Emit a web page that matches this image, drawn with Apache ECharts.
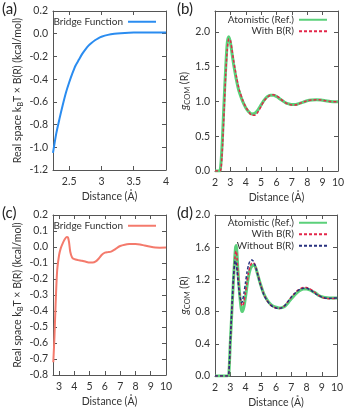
<!DOCTYPE html>
<html>
<head>
<meta charset="utf-8">
<script src="https://cdn.jsdelivr.net/npm/echarts@6/dist/echarts.min.js"></script>
<style>
html, body { margin: 0; padding: 0; background: #fff; }
#chart { width: 350px; height: 409px; }
</style>
</head>
<body>
<div id="chart"></div>
<script>
// (a) bridge function, short range
var aDist = [2.25, 2.3, 2.35, 2.4, 2.45, 2.5, 2.55, 2.6, 2.65, 2.7, 2.75, 2.8, 2.85, 2.9, 2.95, 3.0, 3.1, 3.2, 3.3, 3.5, 3.75, 4.0];
var aBridge = [-1.05, -0.88, -0.75, -0.63, -0.52, -0.43, -0.35, -0.28, -0.23, -0.18, -0.14, -0.105, -0.08, -0.058, -0.04, -0.027, -0.01, 0.0, 0.005, 0.01, 0.01, 0.01];
var aXTicks = [2.5, 3, 3.5, 4];
var aYTicks = [-1.2, -1.0, -0.8, -0.6, -0.4, -0.2, 0.0, 0.2];

// (b) g_COM(R)
var bDist = [2.0, 2.2, 2.3, 2.35, 2.4, 2.45, 2.5, 2.6, 2.7, 2.8, 2.9, 3.0, 3.1, 3.2, 3.3, 3.4, 3.5, 3.6, 3.8, 4.0, 4.2, 4.4, 4.6, 4.8, 5.0, 5.2, 5.4, 5.6, 5.8, 6.0, 6.2, 6.4, 6.6, 6.8, 7.0, 7.2, 7.4, 7.6, 7.8, 8.0, 8.3, 8.6, 8.9, 9.2, 9.5, 10.0];
var bAtom = [0, 0, 0.0, 0.03, 0.15, 0.33, 0.55, 1.05, 1.5, 1.85, 1.93, 1.85, 1.7, 1.55, 1.42, 1.3, 1.2, 1.12, 1.0, 0.91, 0.85, 0.82, 0.83, 0.88, 0.95, 1.02, 1.07, 1.09, 1.09, 1.07, 1.04, 1.01, 0.98, 0.965, 0.955, 0.955, 0.965, 0.98, 0.995, 1.01, 1.02, 1.025, 1.02, 1.01, 1.0, 0.995];
var bWithB = [0, 0, 0, 0.0, 0.05, 0.2, 0.4, 0.9, 1.4, 1.75, 1.9, 1.88, 1.75, 1.6, 1.47, 1.35, 1.24, 1.15, 1.02, 0.92, 0.85, 0.8, 0.8, 0.85, 0.93, 1.01, 1.06, 1.09, 1.095, 1.08, 1.05, 1.01, 0.98, 0.96, 0.95, 0.95, 0.96, 0.98, 0.995, 1.01, 1.02, 1.025, 1.02, 1.01, 1.0, 0.995];
var bXTicks = [2, 3, 4, 5, 6, 7, 8, 9, 10];
var bYTicks = [0.0, 0.5, 1.0, 1.5, 2.0];

// (c) bridge function, long range
var cDist = [2.62, 2.7, 2.77, 2.87, 3.0, 3.1, 3.2, 3.35, 3.5, 3.58, 3.65, 3.73, 3.85, 4.0, 4.25, 4.5, 4.75, 5.0, 5.2, 5.4, 5.6, 5.8, 6.0, 6.2, 6.4, 6.6, 6.8, 7.0, 7.3, 7.6, 8.0, 8.3, 8.6, 9.0, 9.3, 9.6, 10.0];
var cBridge = [-0.72, -0.55, -0.36, -0.15, -0.05, -0.01, 0.015, 0.045, 0.063, 0.06, 0.03, -0.03, -0.065, -0.076, -0.082, -0.086, -0.092, -0.097, -0.097, -0.09, -0.072, -0.048, -0.035, -0.032, -0.029, -0.018, -0.005, 0.006, 0.014, 0.018, 0.019, 0.016, 0.009, 0.001, -0.003, -0.004, -0.003];
var cXTicks = [3, 4, 5, 6, 7, 8, 9, 10];
var cYTicks = [-0.8, -0.7, -0.6, -0.5, -0.4, -0.3, -0.2, -0.1, 0.0, 0.1, 0.2];

// (d) g_COM(R), second system
var dDist = [2.0, 2.8, 2.9, 3.0, 3.1, 3.2, 3.3, 3.35, 3.4, 3.45, 3.5, 3.6, 3.7, 3.75, 3.8, 3.9, 4.0, 4.1, 4.2, 4.3, 4.4, 4.5, 4.6, 4.7, 4.8, 5.0, 5.2, 5.4, 5.6, 5.8, 6.0, 6.2, 6.4, 6.6, 6.8, 7.0, 7.2, 7.4, 7.6, 7.8, 8.0, 8.2, 8.4, 8.6, 8.8, 9.0, 9.2, 9.5, 10.0];
var dAtom = [0, 0, 0.01, 0.4, 0.78, 1.15, 1.48, 1.6, 1.62, 1.5, 1.32, 1.05, 0.86, 0.81, 0.8, 0.86, 0.98, 1.12, 1.24, 1.32, 1.36, 1.38, 1.37, 1.33, 1.26, 1.13, 1.02, 0.95, 0.9, 0.87, 0.855, 0.845, 0.85, 0.87, 0.91, 0.96, 1.0, 1.04, 1.065, 1.08, 1.08, 1.07, 1.05, 1.03, 1.0, 0.985, 0.975, 0.97, 0.97];
var dWithB = [0, 0, 0.01, 0.4, 0.78, 1.14, 1.45, 1.54, 1.55, 1.45, 1.3, 1.07, 0.92, 0.88, 0.87, 0.92, 1.03, 1.16, 1.28, 1.36, 1.4, 1.41, 1.39, 1.34, 1.27, 1.13, 1.02, 0.94, 0.89, 0.86, 0.845, 0.84, 0.85, 0.88, 0.93, 0.98, 1.02, 1.06, 1.085, 1.1, 1.1, 1.085, 1.06, 1.03, 1.0, 0.98, 0.965, 0.96, 0.965];
var dWithout = [0, 0, 0.02, 0.42, 0.82, 1.2, 1.42, 1.43, 1.38, 1.3, 1.2, 1.02, 0.93, 0.91, 0.93, 1.03, 1.16, 1.29, 1.38, 1.43, 1.44, 1.43, 1.39, 1.33, 1.26, 1.12, 1.01, 0.94, 0.89, 0.86, 0.845, 0.84, 0.85, 0.88, 0.93, 0.98, 1.02, 1.055, 1.08, 1.09, 1.09, 1.075, 1.05, 1.02, 1.0, 0.98, 0.97, 0.965, 0.97];
var dXTicks = [2, 3, 4, 5, 6, 7, 8, 9, 10];
var dYTicks = [0.0, 0.4, 0.8, 1.2, 1.6, 2.0];

var FONT = 'Lato';
var frame = '#555';
var txt = '#333';

function pairs(xs, ys) {
	return xs.map(function (x, i) { return [x, ys[i]]; });
}

var bridgeName = '{t|Real space k}{s|B}{t|T × B(R) (kcal/mol)}';
var gName = '{i|g}{s|COM}{t| (R)}';
var nameRich = {
	t: { fontSize: 10.5, fontFamily: FONT, color: txt, lineHeight: 14, verticalAlign: 'middle' },
	i: { fontSize: 11, fontFamily: FONT, fontStyle: 'italic', color: txt, lineHeight: 14, verticalAlign: 'middle' },
	s: { fontSize: 7.5, fontFamily: FONT, color: txt, lineHeight: 14, verticalAlign: 'bottom', padding: [4, 0, 0, 0] }
};

var grids = [
	{ left: 53, top: 11, width: 113, height: 159 },
	{ left: 215, top: 11, width: 123, height: 160 },
	{ left: 53, top: 215, width: 113, height: 160 },
	{ left: 215, top: 215, width: 122, height: 161 }
];
var panels = [
	{ x: [2.25, 4], xt: aXTicks, y: [-1.2, 0.2], yt: aYTicks, dec: 1, yName: bridgeName, gap: 28 },
	{ x: [2, 10], xt: bXTicks, y: [0, 2.3], yt: bYTicks, dec: 1, yName: gName, gap: 23 },
	{ x: [2.6, 10], xt: cXTicks, y: [-0.8, 0.2], yt: cYTicks, dec: 1, yName: bridgeName, gap: 28 },
	{ x: [2, 10], xt: dXTicks, y: [0, 2.0], yt: dYTicks, dec: 1, yName: gName, gap: 23 }
];

var xAxes = [], yAxes = [];
panels.forEach(function (p, gi) {
	['bottom', 'top'].forEach(function (pos) {
		var main = pos === 'bottom';
		xAxes.push({
			type: 'value', gridIndex: gi, position: pos, min: p.x[0], max: p.x[1],
			name: main ? 'Distance (Å)' : '', nameLocation: 'middle', nameGap: 21,
			nameTextStyle: { fontFamily: FONT, fontSize: 10.5, color: txt },
			axisLine: { show: true, onZero: false, lineStyle: { color: frame, width: 1 } },
			axisTick: { show: true, inside: true, length: 4, customValues: p.xt, lineStyle: { color: frame } },
			axisLabel: { show: main, customValues: p.xt, fontFamily: FONT, fontSize: 10.5, color: txt, margin: 6,
				formatter: function (v) { return String(v); } },
			splitLine: { show: false }
		});
	});
	['left', 'right'].forEach(function (pos) {
		var main = pos === 'left';
		yAxes.push({
			type: 'value', gridIndex: gi, position: pos, min: p.y[0], max: p.y[1],
			name: main ? p.yName : '', nameLocation: 'middle', nameGap: p.gap,
			nameTextStyle: { rich: nameRich },
			axisLine: { show: true, onZero: false, lineStyle: { color: frame, width: 1 } },
			axisTick: { show: true, inside: true, length: 4, customValues: p.yt, lineStyle: { color: frame } },
			axisLabel: { show: main, customValues: p.yt, fontFamily: FONT, fontSize: 10.5, color: txt, margin: 5,
				formatter: function (v) { return v.toFixed(p.dec); } },
			splitLine: { show: false }
		});
	});
});

function line(name, gi, xs, ys, color, width, dashed, z) {
	return {
		name: name, type: 'line', xAxisIndex: gi * 2, yAxisIndex: gi * 2,
		data: pairs(xs, ys), smooth: 0.25, symbol: 'none', z: z || 2,
		lineStyle: { color: color, width: width, type: dashed ? [3, 2] : 'solid' },
		itemStyle: { color: color }
	};
}

var blue = '#2a8cf0', salmon = '#f47a6c', green = '#5bd07a', red = '#e3264a', navy = '#27307f';

var series = [
	line('Bridge Function #a', 0, aDist, aBridge, blue, 2),
	line('Atomistic (Ref.) #b', 1, bDist, bAtom, green, 3),
	line('With B(R) #b', 1, bDist, bWithB, red, 1.5, true, 3),
	line('Bridge Function #c', 2, cDist, cBridge, salmon, 2),
	line('Atomistic (Ref.) #d', 3, dDist, dAtom, green, 3),
	line('With B(R) #d', 3, dDist, dWithB, red, 1.5, true, 3),
	line('Without B(R) #d', 3, dDist, dWithout, navy, 1.5, true, 4)
];

function legend(names, right, top) {
	return {
		data: names, orient: 'vertical', align: 'right', right: right, top: top,
		itemWidth: 28, itemHeight: 8, itemGap: 0, padding: 0,
		itemStyle: { opacity: 0 },
		textStyle: { fontFamily: FONT, fontSize: 10, color: txt, lineHeight: 11.5 },
		formatter: function (n) { return n.replace(/ #.$/, ''); }
	};
}

var labels = ['(a)', '(b)', '(c)', '(d)'];
var labelPos = [[2, 2], [177, 2], [2, 206], [177, 206]];

var option = {
	backgroundColor: '#fff',
	animation: false,
	grid: grids,
	xAxis: xAxes,
	yAxis: yAxes,
	legend: [
		legend(['Bridge Function #a'], 193, 16),
		legend(['Atomistic (Ref.) #b'].concat(['With B(R) #b']), 22, 14),
		legend(['Bridge Function #c'], 193, 220),
		legend(['Atomistic (Ref.) #d', 'With B(R) #d', 'Without B(R) #d'], 22, 217)
	],
	graphic: labels.map(function (t, i) {
		return { type: 'text', left: labelPos[i][0], top: labelPos[i][1],
			style: { text: t, font: '15px ' + FONT, fill: '#222' } };
	}),
	series: series
};

var chart = echarts.init(document.getElementById('chart'), null, { renderer: 'canvas' });
chart.setOption(option);
</script>
</body>
</html>
